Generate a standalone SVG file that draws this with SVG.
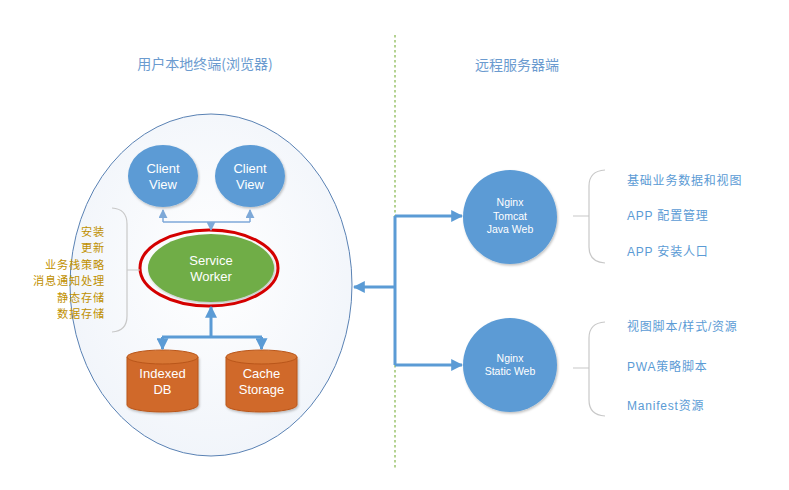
<svg xmlns="http://www.w3.org/2000/svg" width="789" height="490" viewBox="0 0 789 490">
<style>
.hdr{font-family:"Noto Sans CJK SC","Liberation Sans",sans-serif;font-size:14px;fill:#6b9bcf;text-anchor:middle}
.nt{font-family:"Liberation Sans","Noto Sans CJK SC",sans-serif;fill:#fff;text-anchor:middle}
.lt{font-family:"Noto Sans CJK SC",sans-serif;font-size:11.2px;fill:#bf9000;text-anchor:end;letter-spacing:0.8px}
.rt{font-family:"Liberation Sans","Noto Sans CJK SC",sans-serif;font-size:12px;fill:#5b9bd5;letter-spacing:0.8px}
.br{fill:none;stroke:#c8c8c8;stroke-width:1.2}
.thin{fill:none;stroke:#7ea9d8;stroke-width:1.5}
.thick{fill:none;stroke:#5b9bd5;stroke-width:3}
</style>
<defs>
<radialGradient id="bg" cx="0.5" cy="0.45" r="0.6">
<stop offset="0" stop-color="#ffffff"/>
<stop offset="1" stop-color="#f0f4fa"/>
</radialGradient>
<marker id="ah" viewBox="0 0 10 10" refX="9" refY="5" markerWidth="4" markerHeight="4" orient="auto-start-reverse" markerUnits="strokeWidth">
<path d="M0,0 L10,5 L0,10 z" fill="#5b9bd5"/>
</marker>
<marker id="ahs" viewBox="0 0 10 10" refX="9" refY="5" markerWidth="6" markerHeight="6" orient="auto-start-reverse" markerUnits="strokeWidth">
<path d="M0,0 L10,5 L0,10 z" fill="#7ea9d8"/>
</marker>
<filter id="sh" x="-20%" y="-20%" width="140%" height="140%">
<feDropShadow dx="1" dy="1.5" stdDeviation="1.2" flood-color="#000" flood-opacity="0.25"/>
</filter>
</defs>
<rect width="789" height="490" fill="#fff"/>

<g id="headers">
<text class="hdr" x="205" y="69">用户本地终端(浏览器)</text>
<text class="hdr" x="517" y="70">远程服务器端</text>
</g>

<g id="divider">
<line x1="395" y1="35" x2="395" y2="470" stroke="#9cc46e" stroke-width="1.5" stroke-dasharray="2.5,2.5"/>
</g>

<g id="browser">
<ellipse cx="211" cy="285" rx="141" ry="171" fill="url(#bg)" stroke="#5a82b4" stroke-width="1"/>
</g>

<g id="client-view-1">
<ellipse cx="163" cy="176" rx="35" ry="31" fill="#5b9bd5" filter="url(#sh)"/>
<text class="nt" x="163" y="173" font-size="13">Client</text>
<text class="nt" x="163" y="189" font-size="13">View</text>
</g>
<g id="client-view-2">
<ellipse cx="250" cy="176" rx="35" ry="31" fill="#5b9bd5" filter="url(#sh)"/>
<text class="nt" x="250" y="173" font-size="13">Client</text>
<text class="nt" x="250" y="189" font-size="13">View</text>
</g>

<g id="service-worker">
<ellipse cx="211" cy="268" rx="63" ry="34" fill="#70ad47" filter="url(#sh)"/>
<ellipse cx="209" cy="268" rx="69" ry="38" fill="none" stroke="#d40000" stroke-width="3"/>
<text class="nt" x="211" y="265" font-size="13">Service</text>
<text class="nt" x="211" y="281" font-size="13">Worker</text>
</g>

<g id="indexed-db">
<path d="M127,357 L127,405 A35.5,7 0 0 0 198,405 L198,357" fill="#d0692a" stroke="#b9561a" stroke-width="1" filter="url(#sh)"/>
<ellipse cx="162.5" cy="357" rx="35.5" ry="7" fill="#d77634" stroke="#b9561a" stroke-width="1"/>
<text class="nt" x="162.5" y="378" font-size="13">Indexed</text>
<text class="nt" x="162.5" y="394" font-size="13">DB</text>
</g>
<g id="cache-storage">
<path d="M226,357 L226,405 A35.5,7 0 0 0 297,405 L297,357" fill="#d0692a" stroke="#b9561a" stroke-width="1" filter="url(#sh)"/>
<ellipse cx="261.5" cy="357" rx="35.5" ry="7" fill="#d77634" stroke="#b9561a" stroke-width="1"/>
<text class="nt" x="261.5" y="378" font-size="13">Cache</text>
<text class="nt" x="261.5" y="394" font-size="13">Storage</text>
</g>

<g id="sw-features">
<path class="br" d="M112,208 Q127,209 127,224 L127,316 Q127,331 112,332 M127,270 L140,270"/>
<text class="lt" x="105" y="236">安装</text>
<text class="lt" x="105" y="252.4">更新</text>
<text class="lt" x="105" y="268.8">业务栈策略</text>
<text class="lt" x="105" y="285.2">消息通知处理</text>
<text class="lt" x="105" y="301.6">静态存储</text>
<text class="lt" x="105" y="318">数据存储</text>
</g>

<g id="nginx-java">
<circle cx="510" cy="217" r="47" fill="#5b9bd5" filter="url(#sh)"/>
<text class="nt" x="510" y="206" font-size="10.5">Nginx</text>
<text class="nt" x="510" y="220" font-size="10.5">Tomcat</text>
<text class="nt" x="510" y="233" font-size="10.5">Java Web</text>
</g>
<g id="nginx-static">
<circle cx="510" cy="365" r="47" fill="#5b9bd5" filter="url(#sh)"/>
<text class="nt" x="510" y="362" font-size="10.5">Nginx</text>
<text class="nt" x="510" y="375" font-size="10.5">Static Web</text>
</g>

<g id="java-features">
<path class="br" d="M605,170 Q589,171 589,186 L589,247 Q589,262 605,263 M573,216 L589,216"/>
<text class="rt" x="627" y="185">基础业务数据和视图</text>
<text class="rt" x="627" y="220">APP 配置管理</text>
<text class="rt" x="627" y="256">APP 安装人口</text>
</g>
<g id="static-features">
<path class="br" d="M605,322 Q589,323 589,338 L589,400 Q589,415 605,416 M573,368 L589,368"/>
<text class="rt" x="627" y="331">视图脚本/样式/资源</text>
<text class="rt" x="627" y="371">PWA策略脚本</text>
<text class="rt" x="627" y="410">Manifest资源</text>
</g>

<g id="connectors">
<path class="thin" d="M163,222 L250,222"/>
<path class="thin" d="M163,222 L163,210" marker-end="url(#ahs)"/>
<path class="thin" d="M250,222 L250,210" marker-end="url(#ahs)"/>
<path class="thin" d="M211,222 L211,230" marker-end="url(#ahs)"/>
<path class="thick" d="M211,337 L211,307" marker-end="url(#ah)"/>
<path class="thick" d="M162,337 L262,337"/>
<path class="thick" d="M162.5,337 L162.5,349" marker-end="url(#ah)"/>
<path class="thick" d="M261.5,337 L261.5,349" marker-end="url(#ah)"/>
<path class="thick" d="M395,216 L395,365"/>
<path class="thick" d="M395,287 L354,287" marker-end="url(#ah)"/>
<path class="thick" d="M395,216 L462,216" marker-end="url(#ah)"/>
<path class="thick" d="M395,365 L462,365" marker-end="url(#ah)"/>
</g>
</svg>
